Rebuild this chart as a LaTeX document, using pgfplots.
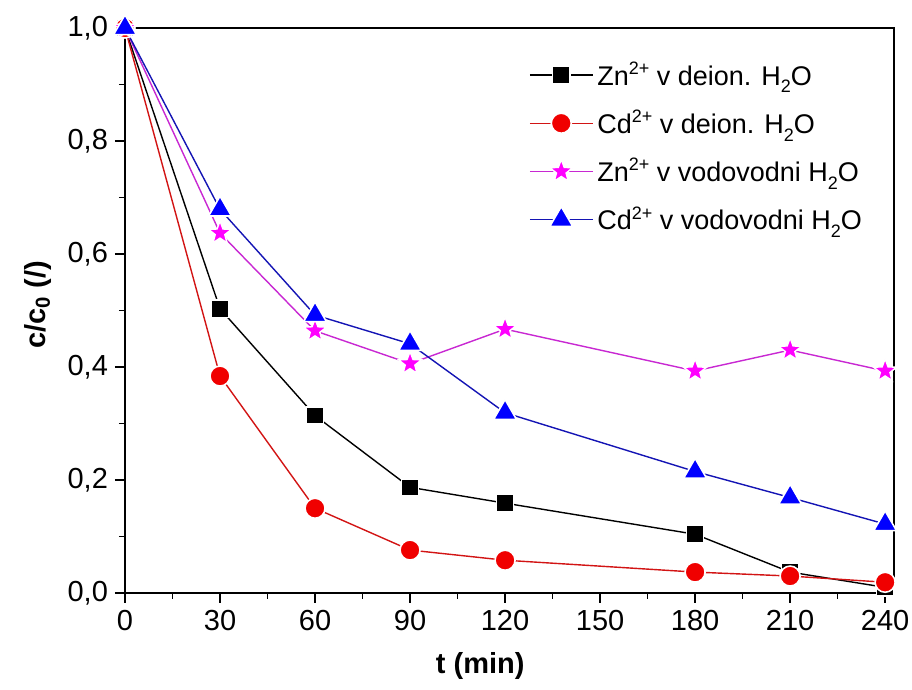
\documentclass[border=0pt]{standalone}
\usepackage{fontspec}
\setmainfont{Liberation Sans}
\usepackage{pgfplots}
\pgfplotsset{compat=1.18}
\definecolor{mag}{RGB}{255,0,255}
\definecolor{magline}{RGB}{200,40,210}
\definecolor{blu}{RGB}{0,0,255}
\definecolor{bluline}{RGB}{20,20,180}
\definecolor{rd}{RGB}{240,0,0}
\definecolor{rdline}{RGB}{210,20,20}
\pgfdeclareplotmark{fstar}{%
  \pgfpathmoveto{\pgfpointpolar{90}{\pgfplotmarksize}}%
  \pgfpathlineto{\pgfpointpolar{126}{0.42\pgfplotmarksize}}%
  \pgfpathlineto{\pgfpointpolar{162}{\pgfplotmarksize}}%
  \pgfpathlineto{\pgfpointpolar{198}{0.42\pgfplotmarksize}}%
  \pgfpathlineto{\pgfpointpolar{234}{\pgfplotmarksize}}%
  \pgfpathlineto{\pgfpointpolar{270}{0.42\pgfplotmarksize}}%
  \pgfpathlineto{\pgfpointpolar{306}{\pgfplotmarksize}}%
  \pgfpathlineto{\pgfpointpolar{342}{0.42\pgfplotmarksize}}%
  \pgfpathlineto{\pgfpointpolar{18}{\pgfplotmarksize}}%
  \pgfpathlineto{\pgfpointpolar{54}{0.42\pgfplotmarksize}}%
  \pgfpathclose
  \pgfusepathqfillstroke}
\newcommand{\sups}[1]{\raisebox{0.75ex}{\fontsize{9}{10}\selectfont #1}}
\newcommand{\subs}[1]{\raisebox{-0.55ex}{\fontsize{9}{10}\selectfont #1}}
\begin{document}
\begin{tikzpicture}
\begin{axis}[
  scale only axis, width=384.5pt, height=282.5pt,
  xmin=0, xmax=242.8, ymin=0, ymax=1,
  xtick={0,30,60,90,120,150,180,210,240},
  ytick={0,0.2,0.4,0.6,0.8,1.0},
  minor x tick num=1, minor y tick num=1,
  tick align=outside, xtick pos=left, ytick pos=left,
  major tick length=5pt, minor tick length=3pt,
  every tick/.style={black, line width=0.8pt},
  axis line style={line width=0.9pt},
  ticklabel style={font=\fontsize{14.5}{16}\selectfont},
  /pgf/number format/assume math mode=true,
  yticklabel style={/pgf/number format/.cd, use comma, fixed, fixed zerofill, precision=1},
  xlabel={\textbf{t (min)}},
  ylabel={\textbf{c/c\textsubscript{0} (/)}},
  xlabel style={font=\fontsize{14.5}{16}\selectfont, at={(axis description cs:0.462,-0.13)}, anchor=center},
  ylabel style={font=\fontsize{14.5}{16}\selectfont, at={(axis description cs:-0.113,0.51)}, anchor=center},
  legend style={at={(0.52,0.955)}, anchor=north west, draw=none, fill=none,
    font=\fontsize{13.5}{15}\selectfont, row sep=7pt, inner sep=2pt},
  legend cell align=left,
  legend image code/.code={\draw[mark repeat=2,mark phase=2] plot coordinates {(0cm,0cm)(0.55cm,0cm)(1.1cm,0cm)};},
]
\addplot[black, line width=0.7pt, mark=square*, mark size=4.3pt, mark options={fill=black, draw=white, line width=0.8pt}]
  coordinates {(0,1.0)(30,0.503)(60,0.314)(90,0.187)(120,0.159)(180,0.104)(210,0.037)(240,0.010)};
\addlegendentry{Zn\sups{2+} v deion. H\subs{2}O}
\addplot[rdline, line width=0.7pt, mark=*, mark size=5pt, mark options={fill=rd, draw=white, line width=0.8pt}]
  coordinates {(0,1.0)(30,0.384)(60,0.150)(90,0.076)(120,0.058)(180,0.037)(210,0.030)(240,0.019)};
\addlegendentry{Cd\sups{2+} v deion. H\subs{2}O}
\addplot[magline, line width=0.7pt, mark=fstar, mark size=6pt, mark options={fill=mag, draw=white, line width=0.7pt}]
  coordinates {(0,1.0)(30,0.637)(60,0.464)(90,0.406)(120,0.467)(180,0.393)(210,0.430)(240,0.393)};
\addlegendentry{Zn\sups{2+} v vodovodni H\subs{2}O}
\addplot[bluline, line width=0.7pt, mark=triangle*, mark size=6.6pt, mark options={fill=blu, draw=white, line width=0.8pt}]
  coordinates {(0,1.0)(30,0.679)(60,0.492)(90,0.441)(120,0.319)(180,0.215)(210,0.169)(240,0.122)};
\addlegendentry{Cd\sups{2+} v vodovodni H\subs{2}O}
\end{axis}
\pgfresetboundingbox
\useasboundingbox (-62.5pt,-48.5pt) rectangle (393.5pt,296.5pt);
\end{tikzpicture}
\end{document}
